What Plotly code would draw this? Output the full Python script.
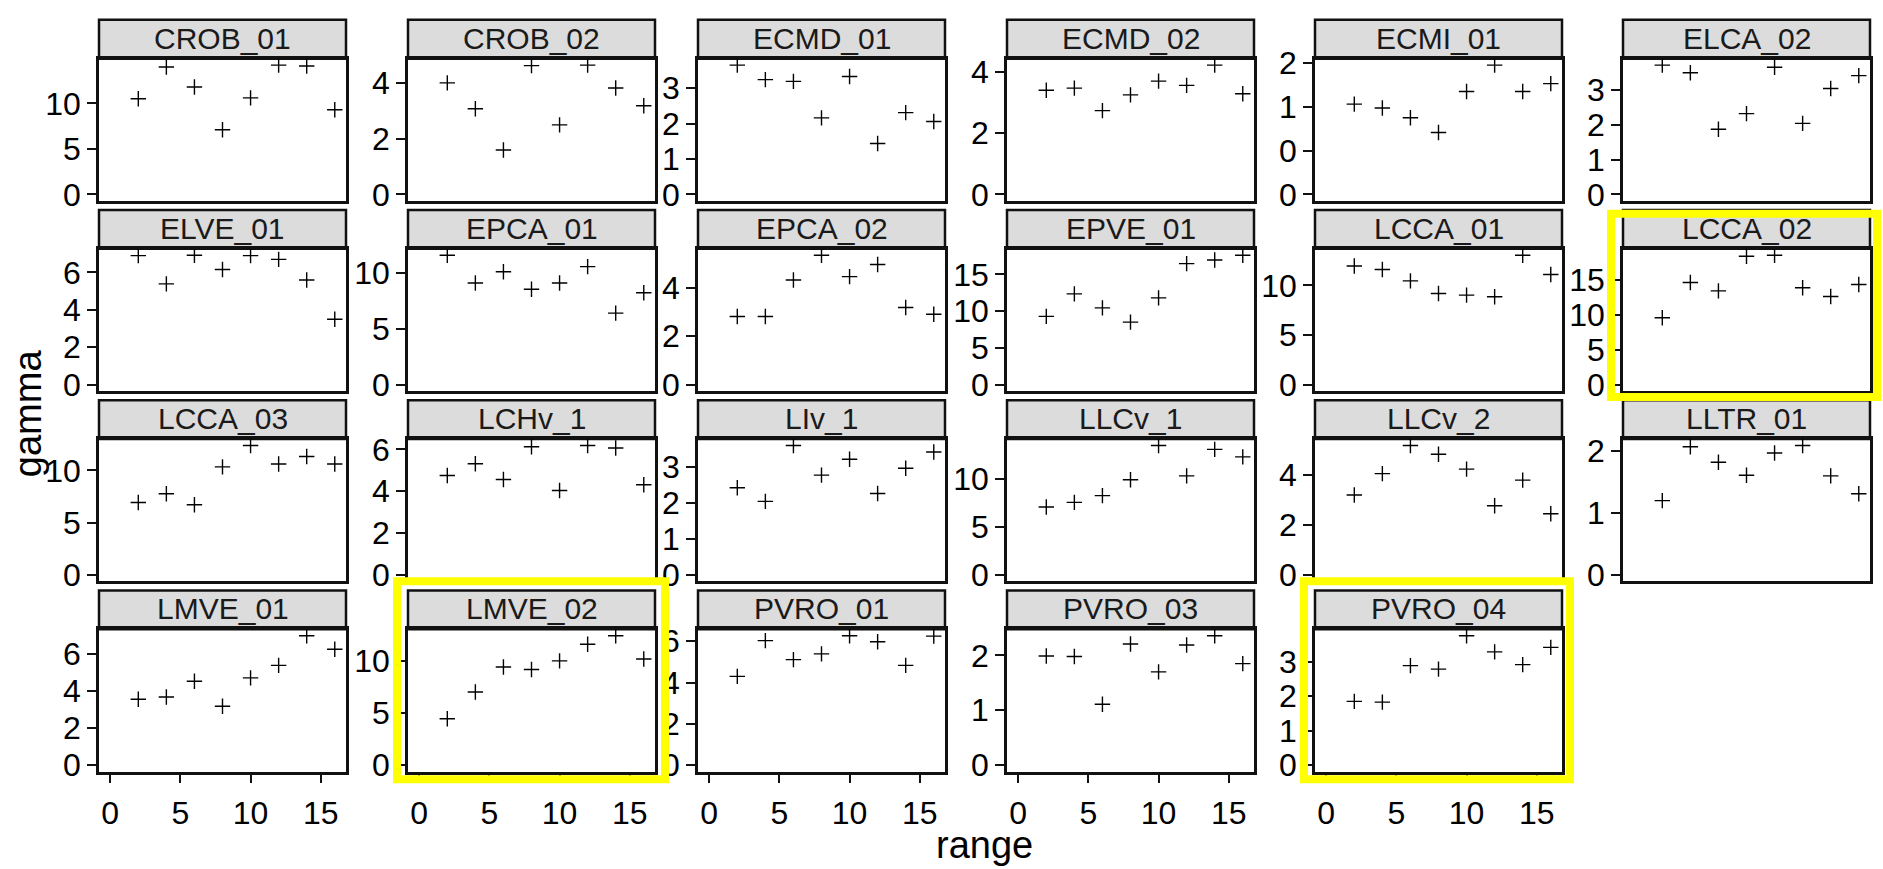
import plotly.graph_objects as go

W, H = 1883, 869

# ---------------- data ----------------
range_vals = [2, 4, 6, 8, 10, 12, 14, 16]

CROB_01 = [10.5, 14.0, 11.8, 7.1, 10.6, 14.2, 14.1, 9.3]
CROB_02 = [4.01, 3.08, 1.60, 4.63, 2.50, 4.65, 3.83, 3.19]
ECMD_01 = [3.65, 3.24, 3.19, 2.16, 3.33, 1.44, 2.31, 2.06]
ECMD_02 = [3.39, 3.46, 2.73, 3.24, 3.69, 3.55, 4.21, 3.28]
ECMI_01 = [1.03, 0.985, 0.874, 0.707, 1.174, 1.474, 1.174, 1.263]
ELCA_02 = [3.71, 3.49, 1.87, 2.32, 3.65, 2.04, 3.04, 3.41]
ELVE_01 = [6.90, 5.39, 6.92, 6.16, 6.90, 6.70, 5.60, 3.50]
EPCA_01 = [11.56, 9.08, 10.09, 8.53, 9.08, 10.55, 6.39, 8.21]
EPCA_02 = [2.81, 2.81, 4.31, 5.33, 4.45, 4.95, 3.18, 2.90]
EPVE_01 = [9.29, 12.35, 10.44, 8.50, 11.81, 16.46, 16.95, 17.60]
LCCA_01 = [11.96, 11.60, 10.46, 9.18, 9.02, 8.86, 13.04, 11.10]
LCCA_02 = [9.54, 14.58, 13.38, 18.33, 18.47, 13.84, 12.59, 14.30]
LCCA_03 = [6.93, 7.77, 6.72, 10.34, 12.38, 10.62, 11.33, 10.62]
LCHv_1 = [4.75, 5.31, 4.56, 6.12, 4.03, 6.18, 6.06, 4.31]
LIv_1 = [2.42, 2.04, 3.59, 2.77, 3.21, 2.26, 2.96, 3.41]
LLCv_1 = [7.09, 7.57, 8.28, 9.93, 13.51, 10.34, 13.11, 12.33]
LLCv_2 = [3.19, 4.04, 5.16, 4.81, 4.22, 2.76, 3.78, 2.44]
LLTR_01 = [1.20, 2.07, 1.82, 1.61, 1.97, 2.09, 1.60, 1.31]
LMVE_01 = [3.55, 3.67, 4.52, 3.17, 4.70, 5.37, 6.97, 6.24]
LMVE_02 = [4.44, 7.00, 9.38, 9.14, 9.97, 11.57, 12.38, 10.15]
PVRO_01 = [4.30, 6.03, 5.11, 5.39, 6.27, 5.98, 4.83, 6.25]
PVRO_03 = [1.99, 1.98, 1.11, 2.21, 1.70, 2.19, 2.36, 1.85]
PVRO_04 = [1.85, 1.83, 2.89, 2.79, 3.76, 3.29, 2.92, 3.42]

panel_names = ["CROB_01", "CROB_02", "ECMD_01", "ECMD_02", "ECMI_01", "ELCA_02",
               "ELVE_01", "EPCA_01", "EPCA_02", "EPVE_01", "LCCA_01", "LCCA_02",
               "LCCA_03", "LCHv_1", "LIv_1", "LLCv_1", "LLCv_2", "LLTR_01",
               "LMVE_01", "LMVE_02", "PVRO_01", "PVRO_03", "PVRO_04"]
panel_series = [CROB_01, CROB_02, ECMD_01, ECMD_02, ECMI_01, ELCA_02,
                ELVE_01, EPCA_01, EPCA_02, EPVE_01, LCCA_01, LCCA_02,
                LCCA_03, LCHv_1, LIv_1, LLCv_1, LLCv_2, LLTR_01,
                LMVE_01, LMVE_02, PVRO_01, PVRO_03, PVRO_04]
panel_yticks = [[0, 5, 10], [0, 2, 4], [0, 1, 2, 3], [0, 2, 4], [0, 0.5, 1, 1.5], [0, 1, 2, 3],
                [0, 2, 4, 6], [0, 5, 10], [0, 2, 4], [0, 5, 10, 15], [0, 5, 10], [0, 5, 10, 15],
                [0, 5, 10], [0, 2, 4, 6], [0, 1, 2, 3], [0, 5, 10], [0, 2, 4], [0, 1, 2],
                [0, 2, 4, 6], [0, 5, 10], [0, 2, 4, 6], [0, 1, 2], [0, 1, 2, 3]]
x_ticks = [0, 5, 10, 15]
highlighted = ["LCCA_02", "LMVE_02", "PVRO_04"]

x_title = "range"
y_title = "gamma"

# ---------------- layout geometry (pixels) ----------------
NCOL = 6
col_left = [99, 408, 698, 1007, 1315, 1623]
panel_w = 247
strip_h = 40
row_strip_top = [7, 202.8, 398.7, 594.5]
panel_h = 146.5
# highlight box offsets (left, right, top, bottom) relative to panel/strip edges
hl_offsets = {"LCCA_02": (-12, 7, 4, 6),
              "LMVE_02": (-11, 10, -9.5, 8),
              "PVRO_04": (-11, 8, -9.5, 8)}

FONT = "Liberation Sans, Arial, Helvetica, sans-serif"
TICK_FS = 32
STRIP_FS = 30
TITLE_FS = 38
BORDER = "#111111"


def px(x):
    return x / W


def py(y):
    return 1 - y / H


fig = go.Figure()
layout = dict(
    width=W, height=H,
    margin=dict(l=0, r=0, t=0, b=0),
    paper_bgcolor="white", plot_bgcolor="white",
    showlegend=False,
    font=dict(family=FONT, color="black"),
)
shapes = []
annotations = []

nrows = (len(panel_names) + NCOL - 1) // NCOL
for i, (name, vals, yt) in enumerate(zip(panel_names, panel_series, panel_yticks)):
    r, c = divmod(i, NCOL)
    k = i + 1
    left = col_left[c]
    right = left + panel_w
    s_top = row_strip_top[r]
    p_top = s_top + strip_h
    p_bot = p_top + panel_h
    bottom_row = (r == nrows - 1)

    fig.add_trace(go.Scatter(
        x=range_vals, y=vals, mode="markers",
        marker=dict(symbol="cross-thin-open", size=11,
                    line=dict(width=1.4, color="black"), color="black"),
        xaxis=f"x{k}", yaxis=f"y{k}", hoverinfo="skip", cliponaxis=False,
    ))

    m = max(vals)
    xa = dict(
        domain=[px(left), px(right)], range=[-0.8, 16.8], anchor=f"y{k}",
        showgrid=False, zeroline=False, showline=True, mirror=True,
        linecolor=BORDER, linewidth=2.5,
        fixedrange=True,
    )
    if bottom_row:
        xa.update(ticks="outside", tickvals=x_ticks, ticklen=9, tickwidth=2,
                  tickcolor=BORDER, showticklabels=True, ticklabelstandoff=2,
                  tickfont=dict(size=TICK_FS, color="black", family=FONT))
    else:
        xa.update(ticks="", showticklabels=False)
    ya = dict(
        domain=[py(p_bot), py(p_top)], range=[-0.05 * m, 1.05 * m], anchor=f"x{k}",
        showgrid=False, zeroline=False, showline=True, mirror=True,
        linecolor=BORDER, linewidth=2.5,
        ticks="outside", tickvals=yt, ticktext=[str(round(v)) for v in yt],
        ticklen=9, tickwidth=2, tickcolor=BORDER,
        tickfont=dict(size=TICK_FS, color="black", family=FONT),
        fixedrange=True,
    )
    layout["xaxis" if k == 1 else f"xaxis{k}"] = xa
    layout["yaxis" if k == 1 else f"yaxis{k}"] = ya

    # facet strip
    shapes.append(dict(type="rect", xref="paper", yref="paper",
                       x0=px(left), x1=px(right), y0=py(p_top), y1=py(s_top),
                       fillcolor="#DCDCDC", line=dict(color=BORDER, width=2.5),
                       layer="below"))
    annotations.append(dict(text=name, xref="paper", yref="paper",
                            x=px((left + right) / 2), y=py(s_top + strip_h / 2 - 1),
                            xanchor="center", yanchor="middle", showarrow=False,
                            font=dict(size=STRIP_FS, color="#1A1A1A", family=FONT)))

    if name in highlighted:
        dl, dr, dt, db = hl_offsets[name]
        shapes.append(dict(type="rect", xref="paper", yref="paper",
                           x0=px(left + dl), x1=px(right + dr),
                           y0=py(p_bot + db), y1=py(s_top + dt),
                           line=dict(color="#FFFF00", width=8),
                           fillcolor="rgba(0,0,0,0)", layer="above"))

# axis titles
annotations.append(dict(text=x_title, xref="paper", yref="paper",
                        x=px((col_left[0] + col_left[-1] + panel_w) / 2), y=py(857),
                        xanchor="center", yanchor="middle", showarrow=False,
                        font=dict(size=TITLE_FS, color="black", family=FONT)))
annotations.append(dict(text=y_title, xref="paper", yref="paper",
                        x=px(28), y=py(412), textangle=-90,
                        xanchor="center", yanchor="middle", showarrow=False,
                        font=dict(size=TITLE_FS, color="black", family=FONT)))

layout["shapes"] = shapes
layout["annotations"] = annotations
fig.update_layout(**layout)

fig.write_html("out.html", config={"displayModeBar": False},
               post_script="document.body.style.margin='0px';document.body.style.overflow='hidden';")
